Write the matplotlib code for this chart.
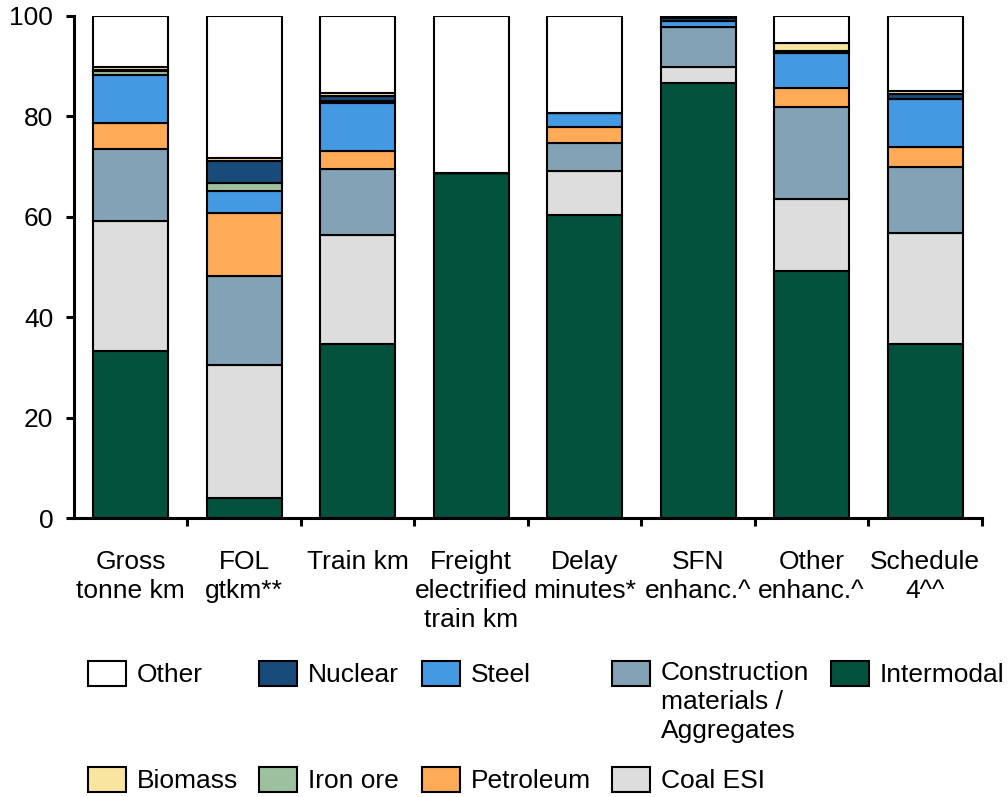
import matplotlib.pyplot as plt
import numpy as np

plt.rcParams['font.family'] = ['Liberation Sans', 'DejaVu Sans']

categories = ['Gross\ntonne km', 'FOL\ngtkm**', 'Train km', 'Freight\nelectrified\ntrain km',
              'Delay\nminutes*', 'SFN\nenhanc.^', 'Other\nenhanc.^', 'Schedule\n4^^']

# stacked from bottom to top
intermodal   = [33.3, 4.0, 34.7, 68.7, 60.4, 86.6, 49.3, 34.7]
coal_esi     = [25.9, 26.4, 21.6, 0.0, 8.8, 3.3, 14.3, 22.0]
construction = [14.3, 17.8, 13.2, 0.0, 5.5, 7.9, 18.2, 13.3]
petroleum    = [5.2, 12.5, 3.6, 0.0, 3.1, 0.0, 3.8, 3.9]
steel        = [9.6, 4.4, 9.6, 0.0, 2.8, 1.2, 7.0, 9.6]
iron_ore     = [0.8, 1.6, 0.4, 0.0, 0.0, 0.0, 0.0, 0.0]
nuclear      = [0.2, 4.5, 1.0, 0.0, 0.0, 0.6, 0.5, 1.0]
biomass      = [0.6, 0.6, 0.6, 0.0, 0.0, 0.0, 1.5, 0.5]
other        = [10.1, 28.2, 15.3, 31.3, 19.4, 0.4, 5.4, 15.0]

series = [
    ('Intermodal', intermodal, '#03523d'),
    ('Coal ESI', coal_esi, '#dddddd'),
    ('Construction\nmaterials /\nAggregates', construction, '#83a2b6'),
    ('Petroleum', petroleum, '#ffaa57'),
    ('Steel', steel, '#4499e3'),
    ('Iron ore', iron_ore, '#9dc19e'),
    ('Nuclear', nuclear, '#184a7a'),
    ('Biomass', biomass, '#f9e4a0'),
    ('Other', other, '#ffffff'),
]

FS = 19
LS = 1.27

fig = plt.figure(figsize=(10.08, 7.97), dpi=100)
ax = fig.add_axes([0.0734, 0.35, 0.9006, 0.63])

x = np.arange(len(categories))
bottom = np.zeros(len(categories))
handles = {}
for name, vals, col in series:
    b = ax.bar(x, vals, 0.66, bottom=bottom, color=col, edgecolor='black', linewidth=1.5,
               label=name, zorder=2)
    handles[name] = b
    bottom += np.array(vals)

ax.set_xlim(-0.5, 7.5)
ax.set_ylim(0, 100)
ax.set_yticks([0, 20, 40, 60, 80, 100])
ax.set_xticks(x)
ax.set_xticklabels(categories, fontsize=FS, linespacing=LS)
ax.set_xticks(np.arange(8) + 0.5, minor=True)
ax.tick_params(axis='x', which='major', length=0, pad=23)
ax.tick_params(axis='x', which='minor', length=6, width=2.2, direction='out')
ax.tick_params(axis='y', labelsize=FS, length=6, width=2.2, pad=9)
for s in ['top', 'right']:
    ax.spines[s].set_visible(False)
for s in ['left', 'bottom']:
    ax.spines[s].set_linewidth(2.2)

# legend laid out as a grid: (label, column, row)
legend_cells = [
    ('Other', 0, 0), ('Nuclear', 1, 0), ('Steel', 2, 0),
    ('Construction\nmaterials /\nAggregates', 3, 0), ('Intermodal', 4, 0),
    ('Biomass', 0, 1), ('Iron ore', 1, 1), ('Petroleum', 2, 1), ('Coal ESI', 3, 1),
]
col_x = [0.0873, 0.257, 0.4187, 0.6071, 0.8244]
row_y = [0.1706, 0.0376]
for name, c, r in legend_cells:
    leg = fig.legend([handles[name]], [name], loc='upper left',
                     bbox_to_anchor=(col_x[c], row_y[r]), frameon=False, fontsize=FS,
                     handlelength=1.44, handleheight=1.06, handletextpad=0.42,
                     borderpad=0, borderaxespad=0, labelspacing=0)
    for t in leg.get_texts():
        t.set_linespacing(LS)
    if '\n' in name:
        # keep the swatch level with the first text line
        leg._legend_handle_box.get_children()[0].get_children()[0].align = 'top'
    for p in leg.get_patches():
        p.set_linewidth(1.5)

fig.savefig('out.png', dpi=100)
